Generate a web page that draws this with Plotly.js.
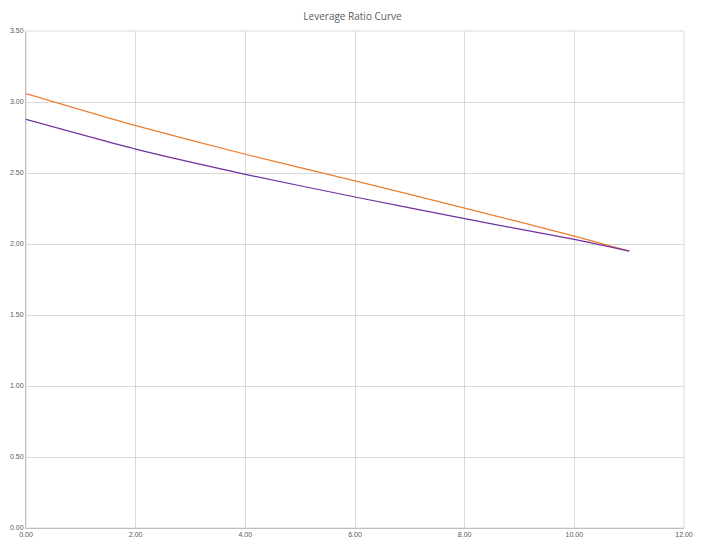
<!DOCTYPE html>
<html>
<head>
<meta charset="utf-8">
<script src="https://cdn.plot.ly/plotly-3.0.1.min.js"></script>
<style>html,body{margin:0;padding:0;background:#fff;}#chart{width:705px;height:550px;}</style>
</head>
<body>
<div id="chart"></div>
<script>
const xValues = [0, 2, 4, 6, 8, 10, 11];
const orangeSeries = [3.06, 2.834, 2.632, 2.444, 2.253, 2.056, 1.95];
const purpleSeries = [2.877, 2.668, 2.491, 2.331, 2.178, 2.032, 1.95];
const chartTitle = "Leverage Ratio Curve";

const traces = [
  {x: xValues, y: orangeSeries, type: 'scatter', mode: 'lines', line: {color: '#ED7D31', width: 1.25, shape: 'spline', smoothing: 0.6}, showlegend: false, hoverinfo: 'skip'},
  {x: xValues, y: purpleSeries, type: 'scatter', mode: 'lines', line: {color: '#7030A0', width: 1.25, shape: 'spline', smoothing: 0.6}, showlegend: false, hoverinfo: 'skip'}
];

const tickFont = {family: 'Liberation Sans, Arial, sans-serif', size: 7, color: '#595959'};

const layout = {
  width: 705, height: 550,
  margin: {l: 26, r: 21, t: 31, b: 22},
  paper_bgcolor: '#fff', plot_bgcolor: '#fff',
  title: {text: chartTitle, x: 0.5, xanchor: 'center', y: 1 - 16/550, yanchor: 'middle', yref: 'container',
          font: {family: 'Open Sans, Liberation Sans, sans-serif', size: 10, color: '#595959'}},
  xaxis: {range: [0, 12], dtick: 2, tick0: 0, tickformat: '.2f', tickfont: tickFont,
          showgrid: true, gridcolor: '#d9d9d9', gridwidth: 1, zeroline: false,
          showline: true, linecolor: '#bfbfbf', linewidth: 1, mirror: false, ticks: '', fixedrange: true},
  yaxis: {range: [0, 3.5], dtick: 0.5, tick0: 0, tickformat: '.2f', tickfont: tickFont,
          showgrid: true, gridcolor: '#d9d9d9', gridwidth: 1, zeroline: false,
          showline: true, linecolor: '#bfbfbf', linewidth: 1, ticks: '', fixedrange: true},
  shapes: [
    {type: 'rect', xref: 'paper', yref: 'paper', x0: 0, x1: 1, y0: 0, y1: 1, line: {color: '#d9d9d9', width: 1}, layer: 'below'}
  ]
};

Plotly.newPlot('chart', traces, layout, {displayModeBar: false, staticPlot: true});
</script>
</body>
</html>
